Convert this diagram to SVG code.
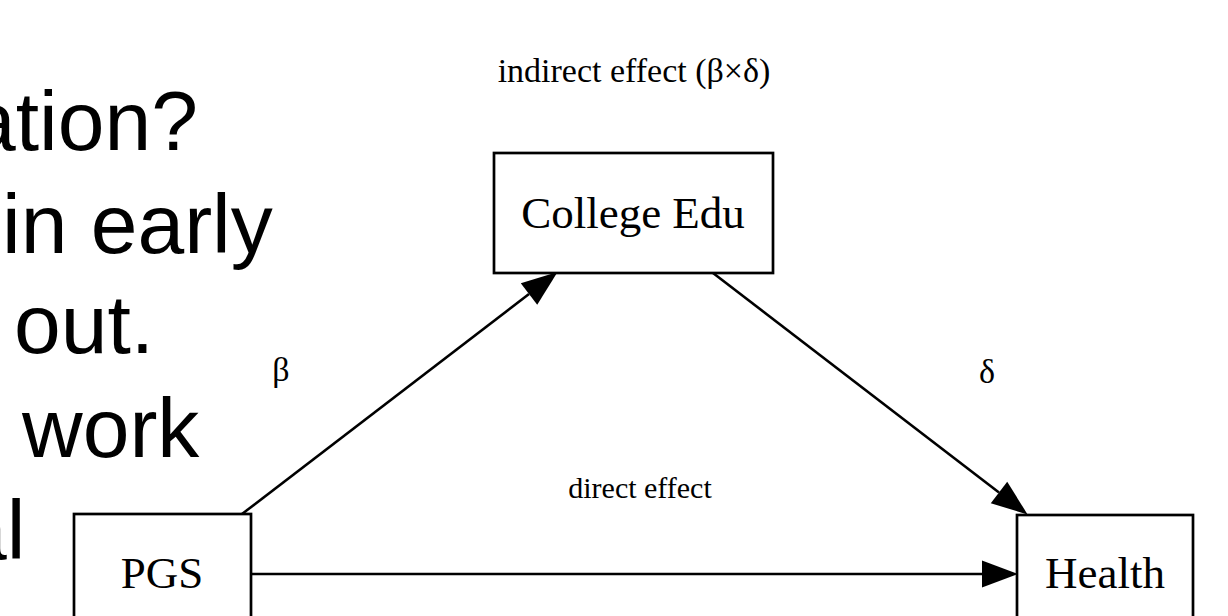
<svg xmlns="http://www.w3.org/2000/svg" width="1228" height="616" viewBox="0 0 1228 616">
<style>
.bg{font-family:"Liberation Sans",Arial,sans-serif;font-size:84px;fill:#000}
.nb{fill:#fff;stroke:#000;stroke-width:2.7}
.nt{font-family:"Liberation Serif","Times New Roman",serif;font-size:45px;fill:#000;text-anchor:middle}
.lb{font-family:"Liberation Serif","Times New Roman",serif;font-size:30px;fill:#000;text-anchor:middle}
.edge{stroke:#000;stroke-width:2.6;fill:none;marker-end:url(#ah)}
</style>
<defs>
<marker id="ah" markerUnits="userSpaceOnUse" markerWidth="37" markerHeight="28" refX="0" refY="13.5" orient="auto" overflow="visible">
<path d="M0,0 L36,13.5 L0,27 Z" fill="#000"/>
</marker>
</defs>
<rect width="1228" height="616" fill="#fff"/>
<g id="background-text">
<text class="bg" x="-31" y="150">ation?</text>
<text class="bg" x="2" y="253">in early</text>
<text class="bg" x="14" y="353">out.</text>
<text class="bg" x="22" y="457">work</text>
<text class="bg" x="-40" y="559">al</text>
</g>
<g id="connectors">
<line class="edge" x1="242" y1="514" x2="529" y2="294"/>
<line class="edge" x1="713" y1="273" x2="999" y2="492.5"/>
<line class="edge" x1="251" y1="574" x2="982" y2="574"/>
<text class="lb" x="281" y="381" style="font-size:34px">β</text>
<text class="lb" x="987" y="383" style="font-size:34px">δ</text>
<text class="lb" x="640" y="498">direct effect</text>
</g>
<text class="lb" x="634" y="82" id="title" style="font-size:34px">indirect effect (β×δ)</text>
<g id="node-college">
<rect class="nb" x="494" y="153" width="279" height="120"/>
<text class="nt" x="633" y="228">College Edu</text>
</g>
<g id="node-pgs">
<rect class="nb" x="74" y="514" width="177" height="120"/>
<text class="nt" x="162" y="588">PGS</text>
</g>
<g id="node-health">
<rect class="nb" x="1017" y="515" width="176" height="120"/>
<text class="nt" x="1105" y="588">Health</text>
</g>
</svg>
